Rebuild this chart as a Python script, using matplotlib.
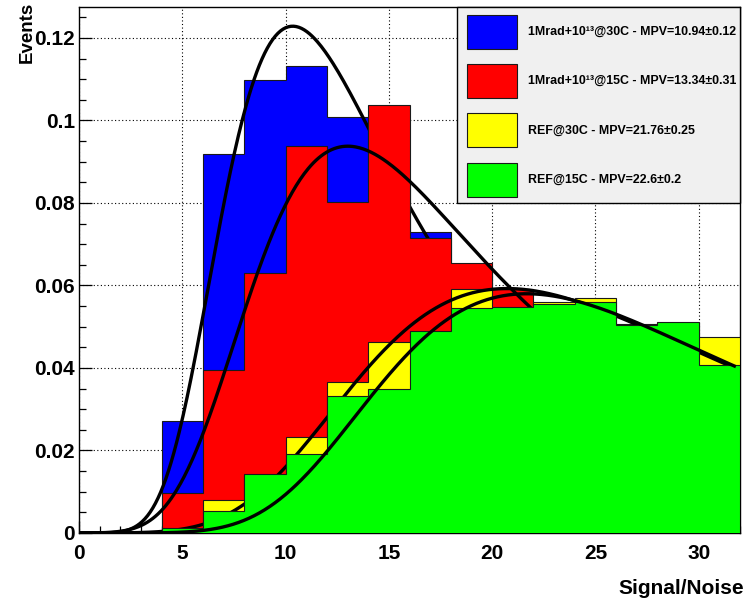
import numpy as np
import matplotlib
matplotlib.use("Agg")
import matplotlib.pyplot as plt
from matplotlib.patches import Rectangle
from matplotlib.ticker import MultipleLocator, FuncFormatter
from matplotlib import font_manager as fm

# ---------------- data ----------------
bin_edges = np.arange(0, 34, 2)  # 0..32, width 2

blue_vals = [0, 0, 0.0272, 0.0919, 0.1098, 0.1131, 0.1009, 0.0850,
             0.0730, 0.0630, 0.0500, 0.0350, 0.0250, 0.0180, 0.0120, 0.0100]
red_vals = [0, 0, 0.0096, 0.0395, 0.0630, 0.0938, 0.0803, 0.1037,
            0.0714, 0.0654, 0.0591, 0.0500, 0.0450, 0.0400, 0.0350, 0.0300]
yellow_vals = [0, 0, 0.0008, 0.0080, 0.0140, 0.0232, 0.0366, 0.0463,
               0.0488, 0.0591, 0.0545, 0.0559, 0.0569, 0.0507, 0.0510, 0.0476]
green_vals = [0, 0, 0.0011, 0.0054, 0.0143, 0.0191, 0.0333, 0.0349,
              0.0490, 0.0545, 0.0549, 0.0555, 0.0561, 0.0504, 0.0511, 0.0407]

series_vals = [blue_vals, red_vals, yellow_vals, green_vals]
series_colors = ["#0000ff", "#ff0000", "#ffff00", "#00ff00"]
series_labels = [
    "1Mrad+10\u00b9\u00b3@30C - MPV=10.94\u00b10.12",
    "1Mrad+10\u00b9\u00b3@15C - MPV=13.34\u00b10.31",
    "REF@30C - MPV=21.76\u00b10.25",
    "REF@15C - MPV=22.6\u00b10.2",
]

# Landau fit parameters (location, width, normalisation)
fit_loc = [11.0, 13.9, 22.1, 23.0]
fit_sigma = [2.95, 4.0, 6.2, 6.0]
fit_norm = [0.680, 0.519, 0.328, 0.321]
fit_range = (0.0, 31.8)

x_ticks = [0, 5, 10, 15, 20, 25, 30]
y_ticks = [0, 0.02, 0.04, 0.06, 0.08, 0.1, 0.12]


def landau_density(lam):
    """Standard Landau density via its characteristic function."""
    lam = np.atleast_1d(np.asarray(lam, dtype=float))
    t = np.linspace(0.0, 30.0, 15001)
    tlogt = np.zeros_like(t)
    tlogt[1:] = t[1:] * np.log(t[1:])
    damp = np.exp(-np.pi * t / 2.0)
    out = np.empty_like(lam)
    for i in range(0, lam.size, 100):
        l = lam[i:i + 100]
        vals = damp[None, :] * np.cos(tlogt[None, :] + l[:, None] * t[None, :])
        out[i:i + 100] = np.trapezoid(vals, t, axis=1) / np.pi
    return np.clip(out, 0, None)


def has_font(name):
    try:
        fm.findfont(fm.FontProperties(family=name), fallback_to_default=False)
        return True
    except Exception:
        return False


main_font = "Liberation Sans" if has_font("Liberation Sans") else "DejaVu Sans"

plt.rcParams["font.family"] = [main_font, "DejaVu Sans"]
plt.rcParams["font.weight"] = "bold"

W, H = 749, 603
fig = plt.figure(figsize=(W / 100, H / 100), dpi=100)
ax_left, ax_right, ax_top, ax_bottom = 79.1, 740.0, 7.0, 533.0
ax = fig.add_axes([ax_left / W, 1 - ax_bottom / H, (ax_right - ax_left) / W,
                   (ax_bottom - ax_top) / H])

ax.set_xlim(0, 32)
ax.set_ylim(0, 0.1275)
ax.set_axisbelow(True)
ax.grid(True, which="major", color="black", linestyle=(0, (1, 2.2)), linewidth=0.8)

xfine = np.linspace(fit_range[0], fit_range[1], 500)
z = 2
for vals, col, loc, sig, nrm in zip(series_vals, series_colors, fit_loc, fit_sigma, fit_norm):
    ax.stairs(vals, bin_edges, baseline=0, fill=True, facecolor=col,
              edgecolor="#1a1a1a", linewidth=0.8, zorder=z)
    yfit = nrm * landau_density((xfine - loc) / sig)
    ax.plot(xfine, yfit, color="black", linewidth=2.4, zorder=z + 1,
            solid_capstyle="butt", solid_joinstyle="round")
    z += 2

ax.set_xticks(x_ticks)
ax.set_yticks(y_ticks)
ax.xaxis.set_minor_locator(MultipleLocator(1))
ax.yaxis.set_minor_locator(MultipleLocator(0.005))
ax.yaxis.set_major_formatter(FuncFormatter(lambda v, p: "%g" % round(v, 4)))
ax.xaxis.set_major_formatter(FuncFormatter(lambda v, p: "%g" % v))
ax.tick_params(axis="both", which="both", direction="in", top=False, right=False)
ax.tick_params(axis="both", which="major", length=9, width=0.9, labelsize=15)
ax.tick_params(axis="both", which="minor", length=5, width=0.9)
ax.tick_params(axis="x", which="major", pad=8)
ax.tick_params(axis="y", which="major", pad=3)
for lab in ax.get_xticklabels() + ax.get_yticklabels():
    lab.set_fontweight("bold")
for sp in ax.spines.values():
    sp.set_linewidth(1.0)
    sp.set_color("black")

fig.text(744 / W, 1 - 579 / H, "Signal/Noise", ha="right", va="top",
         fontsize=15, fontweight="bold")
fig.text(27 / W, 1 - 2 / H, "Events", rotation=90, ha="center", va="top",
         fontsize=13.5, fontweight="bold")

# ---------------- legend box ----------------
lx0, lx1, ly0, ly1 = 456.7, 739.5, 6.7, 203.0
lax = fig.add_axes([lx0 / W, 1 - ly1 / H, (lx1 - lx0) / W, (ly1 - ly0) / H])
lw_, lh_ = lx1 - lx0, ly1 - ly0
lax.set_xlim(0, lw_)
lax.set_ylim(lh_, 0)
lax.axis("off")
lax.add_patch(Rectangle((0, 0), lw_, lh_, facecolor="#f0f0f0", edgecolor="black",
                        linewidth=1.0, clip_on=False))
for i, (lab, col) in enumerate(zip(series_labels, series_colors)):
    top = 8.3 + i * 49.2
    lax.add_patch(Rectangle((10, top), 50, 34, facecolor=col, edgecolor="#1a1a1a",
                            linewidth=0.8))
    lax.text(71, top + 17, lab, ha="left", va="center", fontsize=8.9,
             fontweight="bold")

fig.savefig("out.png", dpi=100)
